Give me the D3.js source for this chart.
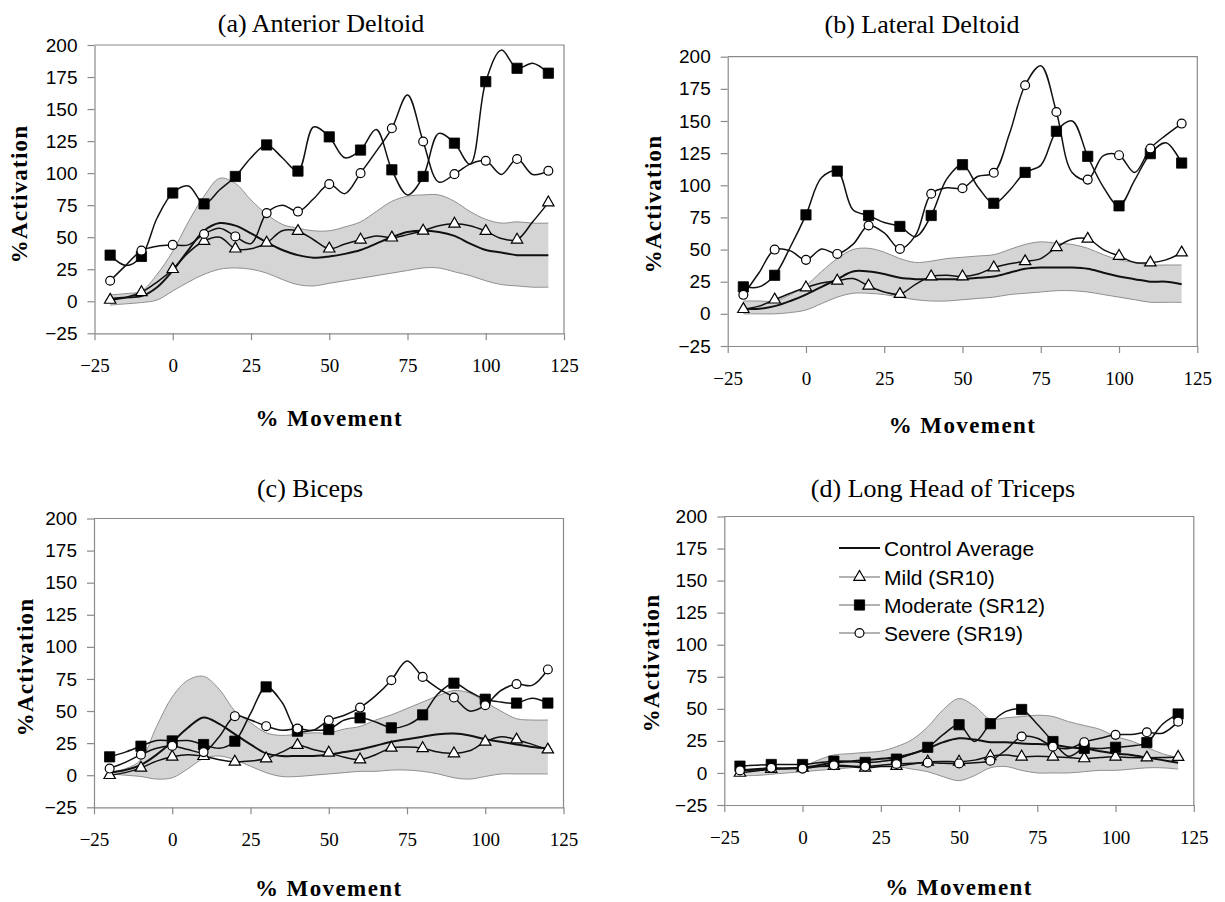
<!DOCTYPE html>
<html><head><meta charset="utf-8">
<script src="https://cdn.jsdelivr.net/npm/d3@7"></script>
<style>body{margin:0;background:#fff}svg{display:block}</style>
</head><body>
<svg id="chart" width="1225" height="902"></svg>
<script>
// ---------------- DATA ----------------
const xGrid = [-20,-15,-10,-5,0,5,10,15,20,25,30,35,40,45,50,55,60,65,70,75,80,85,90,95,100,105,110,115,120];
const xTicks = [-25,0,25,50,75,100,125];
const yTicks = [-25,0,25,50,75,100,125,150,175,200];
const panelTitles = ["(a) Anterior Deltoid","(b) Lateral Deltoid","(c) Biceps","(d) Long Head of Triceps"];
const seriesNames = ["Control Average","Mild (SR10)","Moderate (SR12)","Severe (SR19)"];
const xTitle = "% Movement";
const yTitle = "%Activation";

// (a) Anterior Deltoid
const aUpper    = [5,6,8,21,39,62,82,96,92,79,68,60,57,55,55,58,62,70,78,82,83,83,78,70,64,61,62,61,61];
const aLower    = [-3,-2,-1,1,8,15,21,25,26,25,22,17,13,12,14,16,18,20,22,24,26,26,23,20,16,13,12,11,11];
const aControl  = [2,3,4,11,24,40,55,61,59,53,46,40,36,34,35,37,40,45,50,54,55,54,51,45,40,38,36,36,36];
const aMild     = [1,3,7,15,25,38,47,50,41,41,45.6,55,54.7,48,41,44.7,48,51,49.6,52,55,59,60.4,59,54.7,49,48,62,77];
const aModerate = [36,28,35,65,84.5,90,76,87,97.4,112,122,112,101.6,136,128.3,112,118,134,102.6,83,97.4,131,123.4,107,171.4,196,181.8,185.7,178];
const aSevere   = [16,28,39.5,43,44,44,52.5,57,50.6,45,68.8,75,70,80,91.4,84,100,117,135,161,124.7,93,99.2,107,109.6,99,111,99,101.8];

// (b) Lateral Deltoid
const bUpper    = [10,10,10,15,22,33,43,50,51,48,43,40,41,43,44,45,46,50,54,56,55,54,51,46,42,40,38,38,38];
const bLower    = [0,0,0,1,3,8,13,16,16,15,13,11,10,10,11,12,13,15,16,17,18,18,17,15,13,11,9,9,9];
const bControl  = [4,4,6,10,15,21,27,33,33,31,28,27,27,27,27,28,29,32,35,36,36,36,35,32,29,27,25,25,23];
const bMild     = [3.6,6,11,16,20.5,24,25.7,27.5,21.8,17,15.3,23,29,30,29,31,36,39,40.8,43,51.8,58,58.3,50,45,40,39.8,42,47.6];
const bModerate = [21,21,30,52,77,106,111,81,76.5,71,68,60,76.5,105,116,98.5,86,96,110,115.5,142,150,122.5,98.6,84,104,124.6,133,117.3];
const bSevere   = [14.8,32,50,49,42,50.5,46.6,54,68.7,63,50.5,61,93.4,98,97.7,107,109.7,140,177.8,193,157,110,104.4,123,123.4,110,128.6,139,148];

// (c) Biceps
const cUpper    = [2.6,5,12,38,61,74,77,67,50,41,33,31,32,33,33,36,38,43,47,52,57,62,66,64,57,50,44,43,43];
const cLower    = [1,0,-1,-3,-2,5,13,15,12,7,2,-1,-1,0,1,2,3,3,4,4,3,1,-2,-3,-1,1,1,1,1];
const cControl  = [2,4,8,16,26,37,45,40,32,24,17,15,15,15,16,18,20,23,26,28,30,32,32.5,31,28,26,24,22,21];
const cMild     = [0,2,5.7,11,14.3,16,14.8,12,10.4,11,13,18,23.4,20,17.4,14,12.2,16,21.3,22,21,18,16.9,19,26,30,27.7,24,19.9];
const cModerate = [14.3,18,22.6,27,26.7,27,23.9,21,26.5,48,68.8,57,34.3,35,35.6,43,44.7,41.5,36.9,39,47,63.6,71.7,65,59.2,57,56.2,60,56.2];
const cSevere   = [5.2,10,16,21,22.8,20,18,30,46,43,38.2,35,36.3,35,42.8,46.7,52.7,62,74,89,76.6,67.5,60.5,50,54.5,66,71,70,82.4];

// (d) Long Head of Triceps
const dUpper    = [3,3,3,4,5,10,14,15,16,17,20.5,26,36,49.5,58,52,42,43,44,45,44,40,37,34,28.4,25,20,15,12];
const dLower    = [-2,-2,-1,0,1,2,3,4,5,5,5,3,1,-3,-6,-2,4,5,2,0,0,0,1,2,2,3,4,4,3];
const dControl  = [2,2.5,3,3.5,4,6,8,9,10,11,12.5,15,19,24,27,26,24,24,23,22.5,22,20,19,17,15,14,12,10,8];
const dMild     = [0,1.5,3,3.5,4,5,5.3,5,4,5,5.3,7,8.7,9,8.7,10,13,14,12.6,13,12.6,12,11.3,12,12.6,12,11.9,12,12.4];
const dModerate = [5.3,6,6.6,6.6,6.6,8,9.2,9,8.2,9,10.8,15,20,30,37.6,24.5,38.4,48,49.5,38,24.5,13,19.2,19,20,21,23.7,38,46];
const dSevere   = [2,3,4,3.5,3.4,5,6,5.5,5,6,7,7.5,8,7.5,7.4,8,9.5,18,28.4,27,20.5,19,24,27,29.7,30,31.7,31,40];

// ---------------- LAYOUT ----------------
const panels = [
  {title:panelTitles[0], upper:aUpper, lower:aLower, control:aControl, mild:aMild, moderate:aModerate, severe:aSevere},
  {title:panelTitles[1], upper:bUpper, lower:bLower, control:bControl, mild:bMild, moderate:bModerate, severe:bSevere},
  {title:panelTitles[2], upper:cUpper, lower:cLower, control:cControl, mild:cMild, moderate:cModerate, severe:cSevere},
  {title:panelTitles[3], upper:dUpper, lower:dLower, control:dControl, mild:dMild, moderate:dModerate, severe:dSevere, legend:true}
];
const layout = [
  {left:94.5, top:45,   w:469.5, h:288.3, titleX:321, titleY:32,  yTitleX:19,  yTitleY:194, xTitleY:426},
  {left:727.7,top:56.7, w:469.6, h:289.3, titleX:922, titleY:33,  yTitleX:653, yTitleY:204, xTitleY:433},
  {left:94,   top:518.5,w:469.5, h:288.8, titleX:310, titleY:497, yTitleX:25,  yTitleY:667, xTitleY:896},
  {left:724.3,top:516.5,w:469.5, h:288.5, titleX:943, titleY:497, yTitleX:651, yTitleY:663, xTitleY:895}
];

const svg = d3.select("#chart");
const AXIS = "#8a8a8a";
const SERIF = "'Liberation Serif','Times New Roman',serif";
const SANS = "'Liberation Sans',Arial,sans-serif";

const sym = {
  mild: d3.symbol().type(d3.symbolTriangle).size(56),
  moderate: d3.symbol().type(d3.symbolSquare).size(105),
  severe: d3.symbol().type(d3.symbolCircle).size(62)
};
function drawMarker(g, kind, cx, cy){
  const p = g.append("path").attr("d", sym[kind]()).attr("transform", `translate(${cx},${cy})`);
  if(kind === "moderate") p.attr("fill","#000").attr("stroke","#000").attr("stroke-width",0.8);
  else p.attr("fill","#fff").attr("stroke","#000").attr("stroke-width",1.2);
  return p;
}

panels.forEach((P, pi) => {
  const L = layout[pi];
  const x = d3.scaleLinear().domain([-25,125]).range([L.left, L.left + L.w]);
  const y = d3.scaleLinear().domain([-25,200]).range([L.top + L.h, L.top]);
  const g = svg.append("g");
  const curve = d3.curveCatmullRom.alpha(0.5);
  const idx = d3.range(xGrid.length);

  // band
  const area = d3.area().x(i => x(xGrid[i])).y0(i => y(P.lower[i])).y1(i => y(P.upper[i])).curve(curve);
  g.append("path").datum(idx).attr("d", area).attr("fill", "#d5d5d5").attr("stroke","none");
  ["upper","lower"].forEach(k => {
    const ln = d3.line().x(i => x(xGrid[i])).y(i => y(P[k][i])).curve(curve);
    g.append("path").datum(idx).attr("d", ln).attr("fill","none").attr("stroke","#8f8f8f").attr("stroke-width",1);
  });

  // border (top/right)
  g.append("path").attr("d", `M${L.left},${L.top}H${L.left+L.w}V${L.top+L.h}`)
    .attr("fill","none").attr("stroke",AXIS).attr("stroke-width",1.2);

  // axes
  const ya = g.append("g").attr("transform",`translate(${L.left},0)`)
    .call(d3.axisLeft(y).tickValues(yTicks).tickSize(7).tickSizeOuter(0).tickPadding(10));
  ya.selectAll("text").attr("font-family",SANS).attr("font-size",19).attr("fill","#000");
  const xa = g.append("g").attr("transform",`translate(0,${L.top+L.h})`)
    .call(d3.axisBottom(x).tickValues(xTicks).tickSize(7).tickSizeOuter(0));
  xa.selectAll("text").attr("font-family",SERIF).attr("font-size",19).attr("fill","#000").attr("y",39).attr("dy",0);
  [ya, xa].forEach(a => {
    a.select(".domain").attr("stroke",AXIS).attr("stroke-width",1.2);
    a.selectAll(".tick line").attr("stroke",AXIS).attr("stroke-width",1.2);
  });

  // lines
  const mk = k => d3.line().x(i => x(xGrid[i])).y(i => y(P[k][i])).curve(curve);
  g.append("path").datum(idx).attr("d", mk("control")).attr("fill","none").attr("stroke","#111").attr("stroke-width",2);
  ["mild","moderate","severe"].forEach(k => {
    g.append("path").datum(idx).attr("d", mk(k)).attr("fill","none").attr("stroke","#111").attr("stroke-width",1.5);
  });
  // markers at every 10 %
  ["mild","moderate","severe"].forEach(k => {
    idx.filter(i => xGrid[i] % 10 === 0).forEach(i => drawMarker(g, k, x(xGrid[i]), y(P[k][i])));
  });

  // titles
  g.append("text").attr("x",L.titleX).attr("y",L.titleY).attr("text-anchor","middle")
    .attr("font-family",SERIF).attr("font-size",26).text(P.title);
  g.append("text").attr("x",L.left + L.w/2).attr("y",L.xTitleY).attr("text-anchor","middle")
    .attr("font-family",SERIF).attr("font-weight","bold").attr("font-size",23).attr("letter-spacing",1.4).text(xTitle);
  g.append("text").attr("transform",`translate(${L.yTitleX},${L.yTitleY}) rotate(-90)`)
    .attr("text-anchor","middle").attr("dominant-baseline","central")
    .attr("font-family",SERIF).attr("font-weight","bold").attr("font-size",23).attr("letter-spacing",1.2).text(yTitle);

  // legend
  if(P.legend){
    const lx0 = 839, lx1 = 880, tx = 884;
    const rows = [548, 577, 605, 633];
    const kinds = [null,"mild","moderate","severe"];
    rows.forEach((ry, r) => {
      g.append("line").attr("x1",lx0).attr("x2",lx1).attr("y1",ry).attr("y2",ry)
        .attr("stroke", r === 0 ? "#111" : "#9a9a9a").attr("stroke-width", r === 0 ? 2 : 1.5);
      if(kinds[r]) drawMarker(g, kinds[r], (lx0+lx1)/2, ry);
      g.append("text").attr("x",tx).attr("y",ry).attr("dy","0.36em")
        .attr("font-family",SANS).attr("font-size",21).attr("fill","#000").text(seriesNames[r]);
    });
  }
});
</script>
</body></html>
